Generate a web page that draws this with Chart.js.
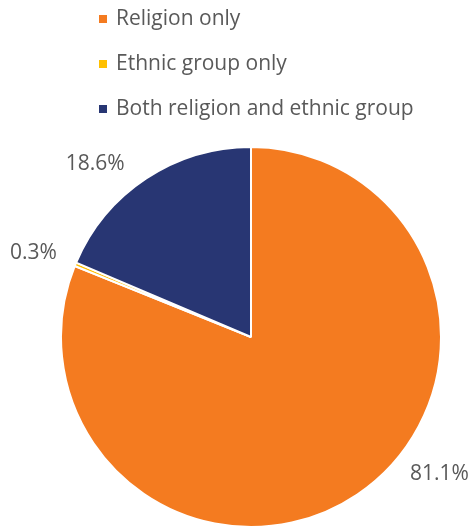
<!DOCTYPE html>
<html>
<head>
<meta charset="utf-8">
<script src="https://cdn.jsdelivr.net/npm/chart.js@4/dist/chart.umd.min.js"></script>
<style>
  html, body { margin: 0; padding: 0; background: #fff; }
  #wrap { width: 475px; height: 528px; position: relative; }
</style>
</head>
<body>
<div id="wrap"><canvas id="pie"></canvas></div>
<script>
const categories = ["Religion only", "Ethnic group only", "Both religion and ethnic group"];
const shares = [81.1, 0.3, 18.6];
const colors = ["#F47B20", "#FFC000", "#283673"];
// where each percentage label sits around the pie (degrees clockwise from 12 o'clock)
const labelAngles = [126, 291, 318];

const textColor = "#595959";
const font = "'Open Sans', sans-serif";

// legend stacked one entry per row above the pie
const stackedLegend = {
  id: "stackedLegend",
  afterDraw(chart) {
    const ctx = chart.ctx;
    ctx.save();
    ctx.font = "21px " + font;
    ctx.textBaseline = "middle";
    ctx.textAlign = "left";
    categories.forEach((name, i) => {
      const y = 19 + i * 45;
      ctx.fillStyle = colors[i];
      ctx.fillRect(99, y - 4, 8, 8);
      ctx.fillStyle = textColor;
      ctx.fillText(name, 116, y);
    });
    ctx.restore();
  }
};

// percentage labels outside the slices
const outsideLabels = {
  id: "outsideLabels",
  afterDatasetsDraw(chart) {
    const ctx = chart.ctx;
    const arcs = chart.getDatasetMeta(0).data;
    ctx.save();
    ctx.font = "21px " + font;
    ctx.fillStyle = textColor;
    ctx.textAlign = "center";
    ctx.textBaseline = "middle";
    arcs.forEach((arc, i) => {
      const a = (labelAngles[i] - 90) * Math.PI / 180;
      const r = arc.outerRadius + 43;
      ctx.fillText(shares[i].toFixed(1) + "%", arc.x + Math.cos(a) * r, arc.y + Math.sin(a) * r);
    });
    ctx.restore();
  }
};

new Chart(document.getElementById("pie"), {
  type: "pie",
  data: {
    labels: categories,
    datasets: [{
      data: shares,
      backgroundColor: colors,
      borderColor: "#ffffff",
      borderWidth: 2
    }]
  },
  options: {
    responsive: true,
    maintainAspectRatio: false,
    animation: false,
    layout: { padding: { top: 146, left: 60, right: 33, bottom: 0 } },
    plugins: {
      legend: { display: false },
      tooltip: { enabled: false }
    }
  },
  plugins: [stackedLegend, outsideLabels]
});
</script>
</body>
</html>
